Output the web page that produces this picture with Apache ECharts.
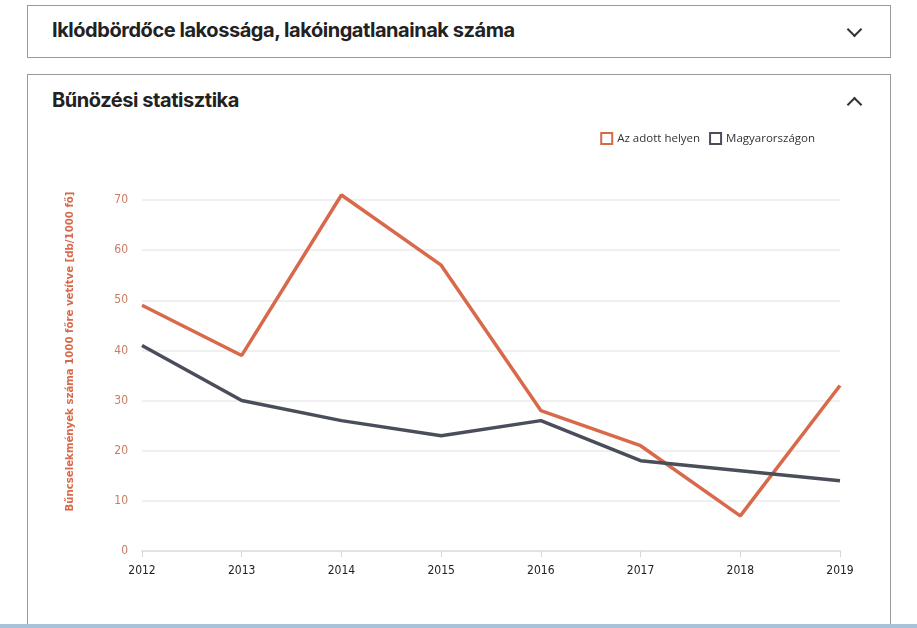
<!DOCTYPE html>
<html>
<head>
<meta charset="utf-8">
<script src="https://cdn.jsdelivr.net/npm/echarts@6/dist/echarts.min.js"></script>
<style>
  html, body { margin: 0; padding: 0; background: #fff; width: 917px; height: 628px; overflow: hidden; }
  .box { position: absolute; left: 27px; width: 862px; border: 1px solid #9a9a9a; background: #fff; }
  .box h2 { position: absolute; left: 24px; margin: 0; font-family: Inter, 'Noto Sans', sans-serif; font-weight: 700; font-size: 20px; letter-spacing: -0.45px; color: #222; }
  .chev { position: absolute; right: 30px; width: 9px; height: 9px; border-left: 2px solid #333; border-bottom: 2px solid #333; }
  #chart { position: absolute; left: 0; top: 0; width: 917px; height: 628px; }
  .strip { position: absolute; left: 0; bottom: 0; width: 917px; height: 4px; background: #a8c2da; }
</style>
</head>
<body>
<div class="box" style="top:5px;height:51px;">
  <h2 style="top:12px;">Iklódbördőce lakossága, lakóingatlanainak száma</h2>
  <div class="chev" style="top:18px;transform:rotate(-45deg);"></div>
</div>
<div class="box" style="top:74px;height:560px;">
  <h2 style="top:13px;">Bűnözési statisztika</h2>
  <div class="chev" style="top:24px;transform:rotate(135deg);"></div>
</div>
<div id="chart"></div>
<div class="strip"></div>
<script>
const years = ['2012', '2013', '2014', '2015', '2016', '2017', '2018', '2019'];
const localValues = [49, 39, 71, 57, 28, 21, 7, 33];
const nationalValues = [41, 30, 26, 23, 26, 18, 16, 14];
const localName = 'Az adott helyen';
const nationalName = 'Magyarországon';
const yAxisTitle = 'Bűncselekmények száma 1000 főre vetítve [db/1000 fő]';

const orange = '#d8694a';
const slate = '#4a4e5a';

const chart = echarts.init(document.getElementById('chart'));
chart.setOption({
  animation: false,
  legend: {
    top: 127,
    right: 97,
    itemWidth: 11,
    itemHeight: 11,
    itemGap: 9,
    icon: 'rect',
    textStyle: { fontFamily: 'Open Sans', fontSize: 11.5, color: '#333' },
    data: [
      { name: localName, itemStyle: { color: '#fff', borderColor: orange, borderWidth: 2 } },
      { name: nationalName, itemStyle: { color: '#fff', borderColor: slate, borderWidth: 2 } }
    ]
  },
  grid: { left: 142, right: 77, top: 200, bottom: 77 },
  xAxis: {
    type: 'category',
    data: years,
    boundaryGap: false,
    axisLine: { lineStyle: { color: '#e3e3e3', width: 2 } },
    axisTick: { show: true, length: 6, lineStyle: { color: '#d6d6d6' } },
    axisLabel: { color: '#222', fontFamily: 'Liberation Sans Narrow, DejaVu Sans Condensed, sans-serif', fontSize: 12, margin: 14 }
  },
  yAxis: {
    type: 'value',
    min: 0,
    max: 70,
    interval: 10,
    name: yAxisTitle,
    nameLocation: 'middle',
    nameGap: 66,
    nameTextStyle: { color: orange, fontFamily: 'DejaVu Sans Condensed, sans-serif', fontWeight: 'bold', fontSize: 11.3, padding: [0, 0, 0, 48] },
    axisLine: { show: false },
    axisTick: { show: false },
    axisLabel: { color: '#c97d62', fontFamily: 'Liberation Sans Narrow, DejaVu Sans Condensed, sans-serif', fontSize: 12, margin: 14 },
    splitLine: { lineStyle: { color: '#ebebeb', width: 1.5 } }
  },
  series: [
    {
      name: localName,
      type: 'line',
      data: localValues,
      symbol: 'none',
      clip: false,
      lineStyle: { color: orange, width: 3.5 },
      itemStyle: { color: orange }
    },
    {
      name: nationalName,
      type: 'line',
      data: nationalValues,
      symbol: 'none',
      clip: false,
      lineStyle: { color: slate, width: 3.5 },
      itemStyle: { color: slate }
    }
  ]
});
</script>
</body>
</html>
